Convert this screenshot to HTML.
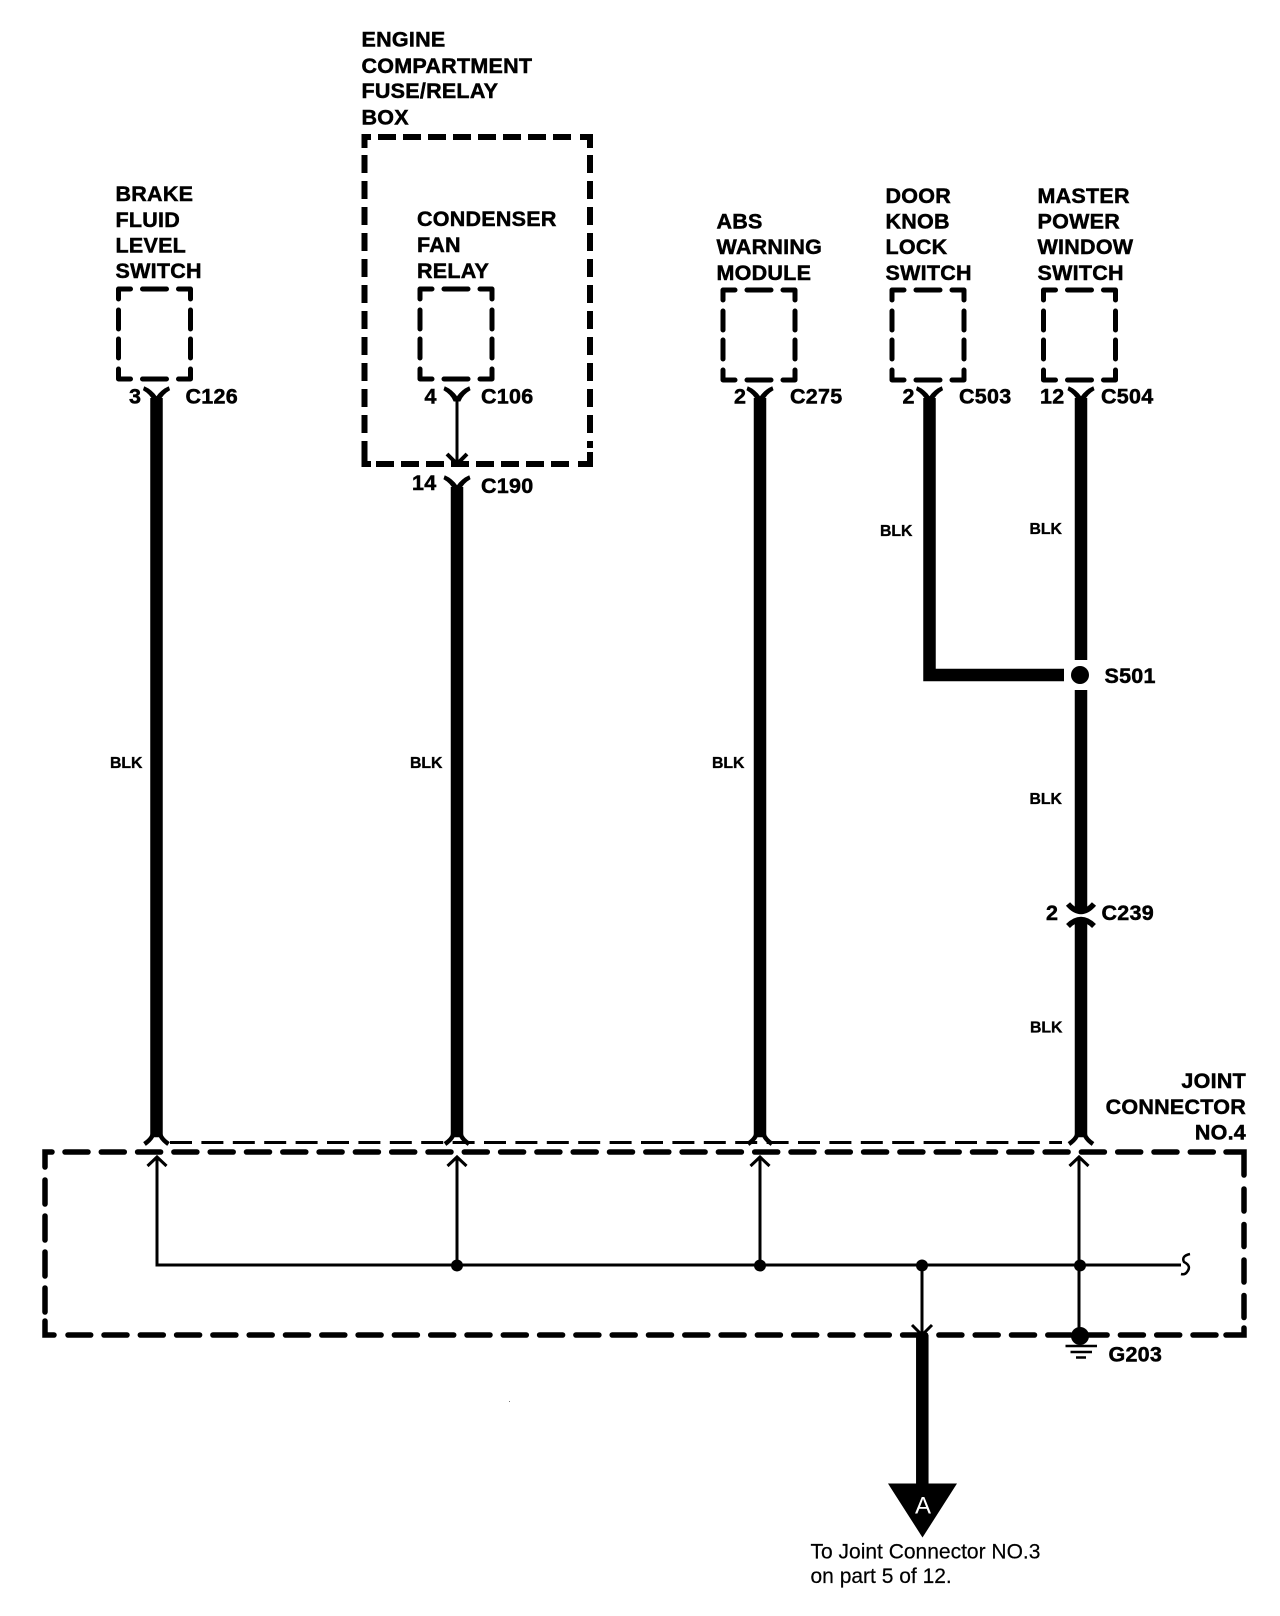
<!DOCTYPE html>
<html><head><meta charset="utf-8"><title>Wiring diagram</title>
<style>
html,body{margin:0;padding:0;background:#fff}
svg{display:block}
text{font-family:"Liberation Sans",sans-serif;fill:#000}
.b{font-weight:bold;font-size:21.5px;stroke:#000;stroke-width:.5;letter-spacing:.25px}
.s{font-weight:bold;font-size:15.8px;stroke:#000;stroke-width:.35}
.r{font-size:21px;stroke:#000;stroke-width:.2}
.w{stroke:#000;stroke-width:12.5;fill:none}
.t{stroke:#000;stroke-width:3;fill:none}
.d{stroke:#000;fill:none}
</style></head><body>
<svg xmlns="http://www.w3.org/2000/svg" width="1280" height="1616" viewBox="0 0 1280 1616">
<defs>
<g id="box" class="d" stroke-width="5" stroke-linecap="round" stroke-linejoin="round" fill="none">
<path d="M0 10V0H12M24 0H48M60 0H72V10M0 21V40M0 50V69M72 21V40M72 50V69M0 80V90H12M24 90H48M60 90H72V80" stroke="#000" fill="none"/>
</g>
<path id="yc" d="M-12 0Q-5 3 0 10Q5 3 12 0L13 3Q6 7 3 14H-3Q-6 7 -13 3Z" fill="#000" stroke="#000" stroke-width="1"/>
<path id="arch" d="M-12 9Q-5 4 -4 0H4Q5 4 12 9" fill="none" stroke="#000" stroke-width="4.5"/>
<path id="au" d="M-9.5 9L0 0L9.5 9" fill="none" stroke="#000" stroke-width="3"/>
</defs>

<!-- Engine compartment box -->
<g class="d" stroke-width="6">
<path d="M364.5 148V137H371"/>
<path d="M378 137H573" stroke-dasharray="18 7"/>
<path d="M580 137H590V148"/>
<path d="M364.5 155V453" stroke-dasharray="18 8"/>
<path d="M590 155V448" stroke-dasharray="18 8"/>
<path d="M364.5 453V464H371"/>
<path d="M376 464H570" stroke-dasharray="18 7"/>
<path d="M578 464H590V452"/>
</g>

<!-- Small component boxes -->
<use href="#box" x="118.5" y="289"/>
<use href="#box" x="420" y="289"/>
<use href="#box" x="723" y="290"/>
<use href="#box" x="892" y="290"/>
<use href="#box" x="1043.5" y="290"/>

<!-- Thick wires -->
<path class="w" d="M156.5 398V1137"/>
<path class="w" d="M457 487V1137"/>
<path class="w" d="M760 398V1137"/>
<path class="w" d="M929.5 398V675H1064"/>
<path class="w" d="M1081 398V660"/>
<path class="w" d="M1081 690V911"/>
<path class="w" d="M1081 919V1137"/>
<path d="M922.3 1335V1486" stroke="#000" stroke-width="12.5" fill="none"/>
<circle cx="1080" cy="675" r="9"/>

<!-- Y connectors -->
<use href="#yc" x="156.5" y="387"/>
<use href="#yc" x="457" y="387"/>
<use href="#yc" x="760" y="387"/>
<use href="#yc" x="929.5" y="387"/>
<use href="#yc" x="1081" y="387"/>
<use href="#yc" x="457" y="476"/>

<!-- C106 to C190 -->
<path class="t" d="M457 398V465"/>
<path d="M447 454L457 464L467 454" fill="none" stroke="#000" stroke-width="4"/>

<!-- C239 -->
<path d="M1068 904Q1081 919 1094 904" fill="none" stroke="#000" stroke-width="5.5"/>
<path d="M1068 926Q1081 913 1094 926" fill="none" stroke="#000" stroke-width="5.5"/>

<!-- Joint connector frame -->
<path d="M170 1142.5H1062" stroke="#000" stroke-width="3" stroke-dasharray="22 9.4" fill="none"/>
<g class="d" stroke-width="5.5" stroke-linecap="round">
<path d="M45 1167V1152H52"/>
<path d="M65 1152H1216" stroke-dasharray="23 13.3"/>
<path d="M1226 1152H1244V1175"/>
<path d="M1244 1189V1318" stroke-dasharray="22 13.5"/>
<path d="M1244 1328V1335H1226"/>
<path d="M1216 1335H68" stroke-dasharray="23 13.3"/>
<path d="M54 1335H45V1321"/>
<path d="M45 1180V1312" stroke-dasharray="24 12"/>
</g>

<!-- Arches at joint connector -->
<use href="#arch" x="156.5" y="1135"/>
<use href="#arch" x="457" y="1135"/>
<use href="#arch" x="760" y="1135"/>
<use href="#arch" x="1081" y="1135"/>

<!-- Internal thin wiring -->
<path class="t" d="M157 1157V1265H1181"/>
<path class="t" d="M457 1157V1265"/>
<path class="t" d="M760 1157V1265"/>
<path class="t" d="M1079 1157V1336"/>
<path class="t" d="M922 1265V1335"/>
<path d="M912 1325L922 1335L932 1325" fill="none" stroke="#000" stroke-width="3"/>
<use href="#au" x="157" y="1157"/>
<use href="#au" x="457" y="1157"/>
<use href="#au" x="760" y="1157"/>
<use href="#au" x="1079" y="1157"/>
<circle cx="457" cy="1265.5" r="6"/>
<circle cx="760" cy="1265.5" r="6"/>
<circle cx="922" cy="1265.5" r="6"/>
<circle cx="1080" cy="1265.5" r="6"/>
<path d="M1190 1254Q1181 1256 1184 1262Q1192 1266 1187 1272Q1185 1275 1181 1274" fill="none" stroke="#000" stroke-width="2.5"/>

<!-- Ground -->
<circle cx="1080" cy="1336" r="9"/>
<path d="M1065.5 1346H1097M1070.5 1352H1092M1076 1357.5H1086" stroke="#000" stroke-width="2.5" fill="none"/>

<!-- Off-page triangle -->
<polygon points="888,1483.5 957,1483.5 922.5,1537.5"/>
<text x="915" y="1513.5" style="font-size:24px;fill:#fff">A</text>
<rect x="509" y="1401" width="1" height="1" fill="#777"/>

<!-- Text labels -->
<text class="b" x="361.5" y="46.5">ENGINE</text>
<text class="b" x="361.5" y="73">COMPARTMENT</text>
<text class="b" x="361.5" y="98">FUSE/RELAY</text>
<text class="b" x="361.5" y="124.5">BOX</text>

<text class="b" x="115.5" y="201">BRAKE</text>
<text class="b" x="115.5" y="227">FLUID</text>
<text class="b" x="115.5" y="252.5">LEVEL</text>
<text class="b" x="115.5" y="278">SWITCH</text>

<text class="b" x="417" y="226">CONDENSER</text>
<text class="b" x="417" y="252">FAN</text>
<text class="b" x="417" y="278">RELAY</text>

<text class="b" x="716.5" y="228.5">ABS</text>
<text class="b" x="716.5" y="254">WARNING</text>
<text class="b" x="716.5" y="280">MODULE</text>

<text class="b" x="885.5" y="203">DOOR</text>
<text class="b" x="885.5" y="228.5">KNOB</text>
<text class="b" x="885.5" y="254">LOCK</text>
<text class="b" x="885.5" y="280">SWITCH</text>

<text class="b" x="1037.5" y="203">MASTER</text>
<text class="b" x="1037.5" y="228.5">POWER</text>
<text class="b" x="1037.5" y="254">WINDOW</text>
<text class="b" x="1037.5" y="280">SWITCH</text>

<text class="b" x="129" y="403.5">3</text>
<text class="b" x="185.5" y="403.5">C126</text>
<text class="b" x="424.5" y="403.5">4</text>
<text class="b" x="481" y="403.5">C106</text>
<text class="b" x="412" y="490">14</text>
<text class="b" x="481" y="493">C190</text>
<text class="b" x="734" y="403.5">2</text>
<text class="b" x="790" y="403.5">C275</text>
<text class="b" x="902.5" y="403.5">2</text>
<text class="b" x="959" y="403.5">C503</text>
<text class="b" x="1040" y="403.5">12</text>
<text class="b" x="1101" y="403.5">C504</text>
<text class="b" x="1104.5" y="683">S501</text>
<text class="b" x="1046" y="920">2</text>
<text class="b" x="1101.5" y="920">C239</text>
<text class="b" x="1108.5" y="1361.5">G203</text>

<text class="s" x="110" y="768">BLK</text>
<text class="s" x="410" y="768">BLK</text>
<text class="s" x="712" y="768">BLK</text>
<text class="s" x="880" y="536">BLK</text>
<text class="s" x="1029.5" y="534">BLK</text>
<text class="s" x="1029.5" y="804">BLK</text>
<text class="s" x="1030" y="1032.5">BLK</text>

<text class="b" x="1246" y="1088" text-anchor="end">JOINT</text>
<text class="b" x="1246" y="1114" text-anchor="end">CONNECTOR</text>
<text class="b" x="1246" y="1139.5" text-anchor="end">NO.4</text>

<text class="r" x="810.5" y="1558.5">To Joint Connector NO.3</text>
<text class="r" x="810.5" y="1583">on part 5 of 12.</text>
</svg>
</body></html>
